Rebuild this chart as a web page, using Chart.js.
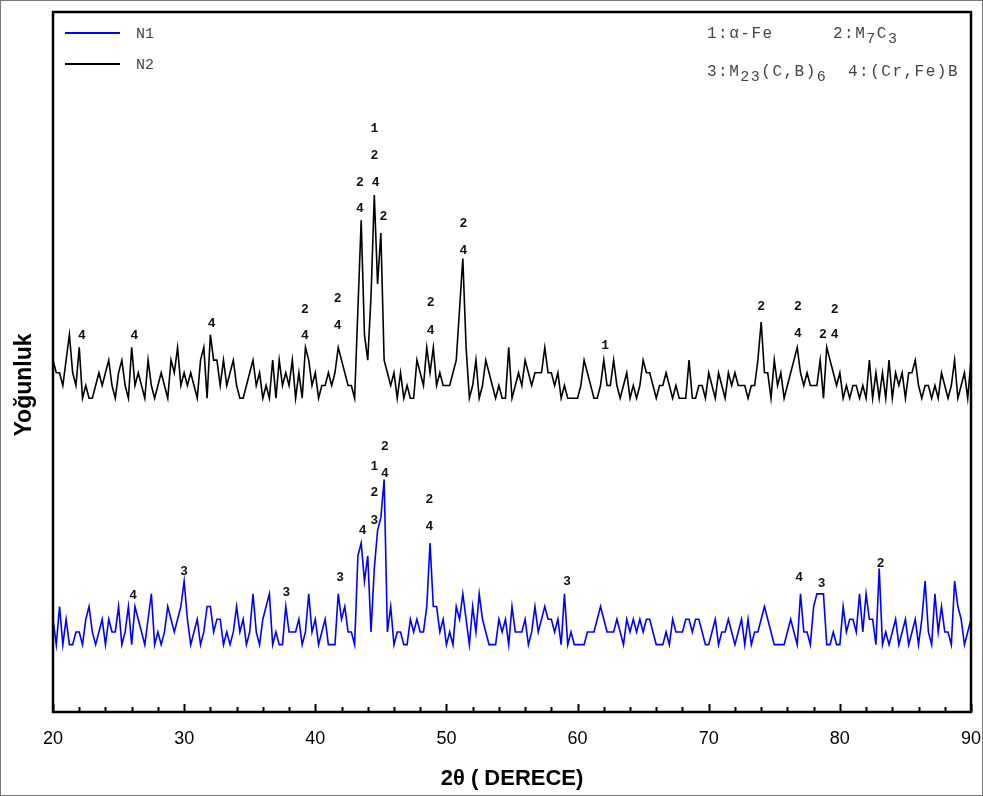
<!DOCTYPE html>
<html>
<head>
<meta charset="utf-8">
<script src="https://cdn.jsdelivr.net/npm/chart.js@4.4.1/dist/chart.umd.min.js"></script>
<style>
  html, body { margin: 0; padding: 0; background: #fff; }
  #wrap { width: 983px; height: 796px; position: relative; }
  canvas { display: block; }
</style>
</head>
<body>
<div id="wrap"><canvas id="c" width="983" height="796"></canvas></div>
<script>
// ---------------- DATA ----------------
// 2θ sampling of the traces: 20° … 90°, every 0.25°
const angleStart = 20;
const angleStep = 0.25;

// N2 (black) intensity, in counts-levels above its own baseline
const n2Intensity = [
  3,2,2,1,3,5,2,1,4,0,1,0,0,1,2,1,2,3,1,0,      // 20.00 – 24.75
  2,3,1,0,4,1,2,1,0,3,1,0,1,2,1,0,3,2,4,1,      // 25.00 – 29.75
  2,1,2,1,0,3,4,0,5,3,3,1,3,1,2,3,1,0,0,1,      // 30.00 – 34.75
  2,3,1,2,0,1,0,3,0,3,1,2,1,3,0,2,0,4,3,1,      // 35.00 – 39.75
  2,0,1,1,2,1,2,4,3,2,1,1,0,7,14,5,3,8,16,9,    // 40.00 – 44.75
  13,3,2,1,2,0,2,0,1,0,0,3,2,1,4,2,4,1,2,1,     // 45.00 – 49.75
  1,1,2,3,7,11,4,0,1,3,0,1,3,2,1,0,1,0,0,4,     // 50.00 – 54.75
  0,1,2,1,3,2,1,2,2,2,4,2,2,1,2,0,1,0,0,0,      // 55.00 – 59.75
  0,1,3,2,1,0,0,1,3,1,1,3,1,0,1,2,0,1,0,1,      // 60.00 – 64.75
  3,2,2,1,0,1,1,2,1,0,1,0,0,0,3,0,0,1,1,0,      // 65.00 – 69.75
  2,1,0,2,1,0,2,1,2,1,1,1,0,1,1,3,6,2,2,0,      // 70.00 – 74.75
  3,1,2,0,1,2,3,4,2,1,2,1,1,1,3,0,4,3,2,1,      // 75.00 – 79.75
  2,0,1,0,1,1,0,1,0,3,0,2,0,2,0,3,0,2,1,2,      // 80.00 – 84.75
  0,2,2,3,1,0,1,1,0,1,0,2,1,0,1,3,0,1,2,0,      // 85.00 – 89.75
  3                                             // 90.00
];

// N1 (blue) intensity, in counts-levels above its own baseline
const n1Intensity = [
  2,0,3,0,2,0,0,1,1,0,2,3,1,0,1,2,0,2,1,1,      // 20.00 – 24.75
  3,0,1,3,0,3,2,1,0,2,4,0,1,0,1,3,2,1,2,3,      // 25.00 – 29.75
  5,2,0,1,2,0,1,3,3,1,2,2,0,1,0,1,3,1,2,0,      // 30.00 – 34.75
  1,4,1,0,2,3,4,0,1,0,0,3,1,1,1,2,0,1,4,1,      // 35.00 – 39.75
  2,0,1,2,0,0,0,4,2,3,1,1,0,7,8,5,7,1,6,9,      // 40.00 – 44.75
  10,13,1,3,0,1,1,0,0,2,1,2,1,1,3,8,3,3,1,2,    // 45.00 – 49.75
  0,1,0,3,2,4,2,0,3,1,4,2,1,0,0,0,2,1,2,0,      // 50.00 – 54.75
  3,1,1,1,2,0,1,3,1,2,3,2,2,1,2,0,4,0,1,0,      // 55.00 – 59.75
  0,0,0,1,1,1,2,3,2,1,1,1,2,1,0,2,1,2,1,2,      // 60.00 – 64.75
  1,2,2,1,0,0,0,1,0,2,1,1,1,2,2,1,2,2,1,0,      // 65.00 – 69.75
  0,1,2,0,1,1,2,1,0,1,2,0,2,0,1,1,2,3,2,1,      // 70.00 – 74.75
  0,0,0,0,1,2,1,0,4,1,1,0,3,4,4,4,0,0,1,0,      // 75.00 – 79.75
  0,3,1,2,2,1,4,1,4,2,2,0,6,0,1,0,1,2,0,1,      // 80.00 – 84.75
  2,0,1,2,0,2,5,1,0,4,1,3,1,1,0,5,3,2,0,1,      // 85.00 – 89.75
  2                                             // 90.00
];

// vertical stacking offsets of the two patterns (levels)
const n1Offset = 5.3;
const n2Offset = 24.7;
const yTop = 55.1;

// x-axis ticks
const xMin = 20, xMax = 90, xMajorStep = 10, xMinorStep = 2;

// peak annotations (phase numbers) for N2
const n2LabelAngle = [22.2, 26.2, 32.1, 39.2, 39.2, 41.7, 41.7, 43.4, 43.4, 44.5, 44.5, 44.6, 45.2, 48.8, 48.8, 51.3, 51.3, 62.1, 74.0, 76.8, 76.8, 79.6, 78.7, 79.6];
const n2LabelLevel = [4.9, 4.9, 5.9, 7.0, 4.9, 7.8, 5.7, 17.0, 14.9, 21.2, 19.1, 17.0, 14.3, 7.5, 5.3, 13.7, 11.6, 4.1, 7.2, 7.2, 5.1, 7.0, 5.0, 5.0];
const n2LabelText  = ['4', '4', '4', '2', '4', '2', '4', '2', '4', '1', '2', '4', '2', '2', '4', '2', '4', '1', '2', '2', '4', '2', '2', '4'];

// peak annotations (phase numbers) for N1
const n1LabelAngle = [26.1, 30.0, 37.8, 41.9, 43.6, 44.5, 44.5, 44.5, 45.3, 45.3, 48.7, 48.7, 59.2, 76.9, 78.6, 83.1];
const n1LabelLevel = [3.9, 5.8, 4.1, 5.3, 9.0, 14.0, 12.0, 9.8, 15.6, 13.5, 11.4, 9.3, 5.0, 5.3, 4.8, 6.4];
const n1LabelText  = ['4', '3', '3', '3', '4', '1', '2', '3', '2', '4', '2', '4', '3', '4', '3', '2'];

// legends
const seriesNames = ['N1', 'N2'];
const seriesColors = ['#0000ff', '#000000'];

// ---------------- BUILD ----------------
function toPoints(values, offset) {
  return values.map((v, i) => ({ x: angleStart + i * angleStep, y: v + offset }));
}

const overlay = {
  id: 'overlay',
  beforeDraw(chart) {
    const ctx = chart.ctx;
    ctx.save();
    ctx.fillStyle = '#ffffff';
    ctx.fillRect(0, 0, chart.width, chart.height);
    ctx.strokeStyle = '#777';
    ctx.lineWidth = 1;
    ctx.strokeRect(0.5, 0.5, chart.width - 1, chart.height - 1);
    ctx.restore();
  },
  afterDraw(chart) {
    const ctx = chart.ctx;
    const a = chart.chartArea;
    const xs = chart.scales.x, ys = chart.scales.y;
    ctx.save();

    // inward ticks on the x axis
    ctx.strokeStyle = '#000';
    ctx.lineWidth = 2;
    for (let v = xMin; v <= xMax; v += xMinorStep) {
      const px = Math.round(xs.getPixelForValue(v)) + 0.5;
      const len = (v % xMajorStep === 0) ? 8 : 5;
      ctx.beginPath();
      ctx.moveTo(px, a.bottom);
      ctx.lineTo(px, a.bottom - len);
      ctx.stroke();
    }

    // plot frame
    ctx.lineWidth = 2.5;
    ctx.strokeRect(a.left, a.top, a.right - a.left, a.bottom - a.top);

    // y title
    ctx.save();
    ctx.translate(25, 385);
    ctx.rotate(-Math.PI / 2);
    ctx.font = 'bold 23px "Liberation Sans", Arial, sans-serif';
    ctx.fillStyle = '#000';
    ctx.textAlign = 'center';
    ctx.textBaseline = 'middle';
    ctx.fillText('Yoğunluk', 0, 0);
    ctx.restore();

    // series legend (top-left)
    const ds = chart.data.datasets;
    const legendY = [33, 64];
    ds.forEach((d, i) => {
      ctx.strokeStyle = d.borderColor;
      ctx.lineWidth = 2;
      ctx.beginPath();
      ctx.moveTo(a.left + 12, legendY[i]);
      ctx.lineTo(a.left + 67, legendY[i]);
      ctx.stroke();
      ctx.fillStyle = '#444';
      ctx.font = '15px "Liberation Mono", "Courier New", monospace';
      ctx.textAlign = 'left';
      ctx.textBaseline = 'middle';
      ctx.fillText(d.label, a.left + 83, legendY[i] + 1);
    });

    // phase legend (top-right)
    ctx.fillStyle = '#444';
    ctx.textBaseline = 'alphabetic';
    const mono = (s) => `${s}px "Liberation Mono", "Courier New", monospace`;
    function runs(x, y, parts) {
      parts.forEach(p => {
        ctx.font = mono(p.sub ? 15 : 16);
        ctx.letterSpacing = '1.5px';
        ctx.fillText(p.t, x, y + (p.sub ? 5 : 0));
        x += ctx.measureText(p.t).width;
      });
    }
    ctx.textAlign = 'left';
    runs(707, 38, [{ t: '1:' }, { t: 'α' }, { t: '-Fe' }]);
    runs(833, 38, [{ t: '2:M' }, { t: '7', sub: true }, { t: 'C' }, { t: '3', sub: true }]);
    runs(707, 76, [{ t: '3:M' }, { t: '23', sub: true }, { t: '(C,B)' }, { t: '6', sub: true }]);
    runs(848, 76, [{ t: '4:(Cr,Fe)B' }]);
    ctx.letterSpacing = '0px';

    // peak annotations
    ctx.fillStyle = '#111';
    ctx.textAlign = 'center';
    ctx.textBaseline = 'middle';
    ctx.font = 'bold 13px "Liberation Mono", "Courier New", monospace';
    n2LabelAngle.forEach((ang, i) => {
      ctx.fillText(n2LabelText[i], xs.getPixelForValue(ang), ys.getPixelForValue(n2Offset + n2LabelLevel[i]));
    });
    ctx.font = 'bold 13px "Liberation Sans", Arial, sans-serif';
    n1LabelAngle.forEach((ang, i) => {
      ctx.fillText(n1LabelText[i], xs.getPixelForValue(ang), ys.getPixelForValue(n1Offset + n1LabelLevel[i]));
    });

    ctx.restore();
  }
};

new Chart(document.getElementById('c'), {
  type: 'line',
  data: {
    datasets: [
      { label: seriesNames[0], data: toPoints(n1Intensity, n1Offset), borderColor: seriesColors[0], borderWidth: 1.6, pointRadius: 0, tension: 0, fill: false },
      { label: seriesNames[1], data: toPoints(n2Intensity, n2Offset), borderColor: seriesColors[1], borderWidth: 1.6, pointRadius: 0, tension: 0, fill: false }
    ]
  },
  options: {
    responsive: false,
    animation: false,
    events: [],
    layout: { padding: { left: 53, right: 0, top: 12, bottom: 4 } },
    plugins: { legend: { display: false }, tooltip: { enabled: false } },
    scales: {
      x: {
        type: 'linear', min: xMin, max: xMax,
        grid: { display: false, drawTicks: false },
        border: { display: false },
        afterFit(scale) { scale.paddingRight = 12; },
        ticks: { stepSize: xMajorStep, padding: 16, color: '#000', maxRotation: 0,
                 font: { family: '"Liberation Sans", Arial, sans-serif', size: 18 } },
        title: { display: true, text: '2θ ( DERECE)', color: '#000',
                 font: { family: '"Liberation Sans", Arial, sans-serif', size: 22, weight: 'bold' },
                 padding: { top: 0, bottom: 0 } }
      },
      y: { display: false, min: 0, max: yTop }
    }
  },
  plugins: [overlay]
});
</script>
</body>
</html>
